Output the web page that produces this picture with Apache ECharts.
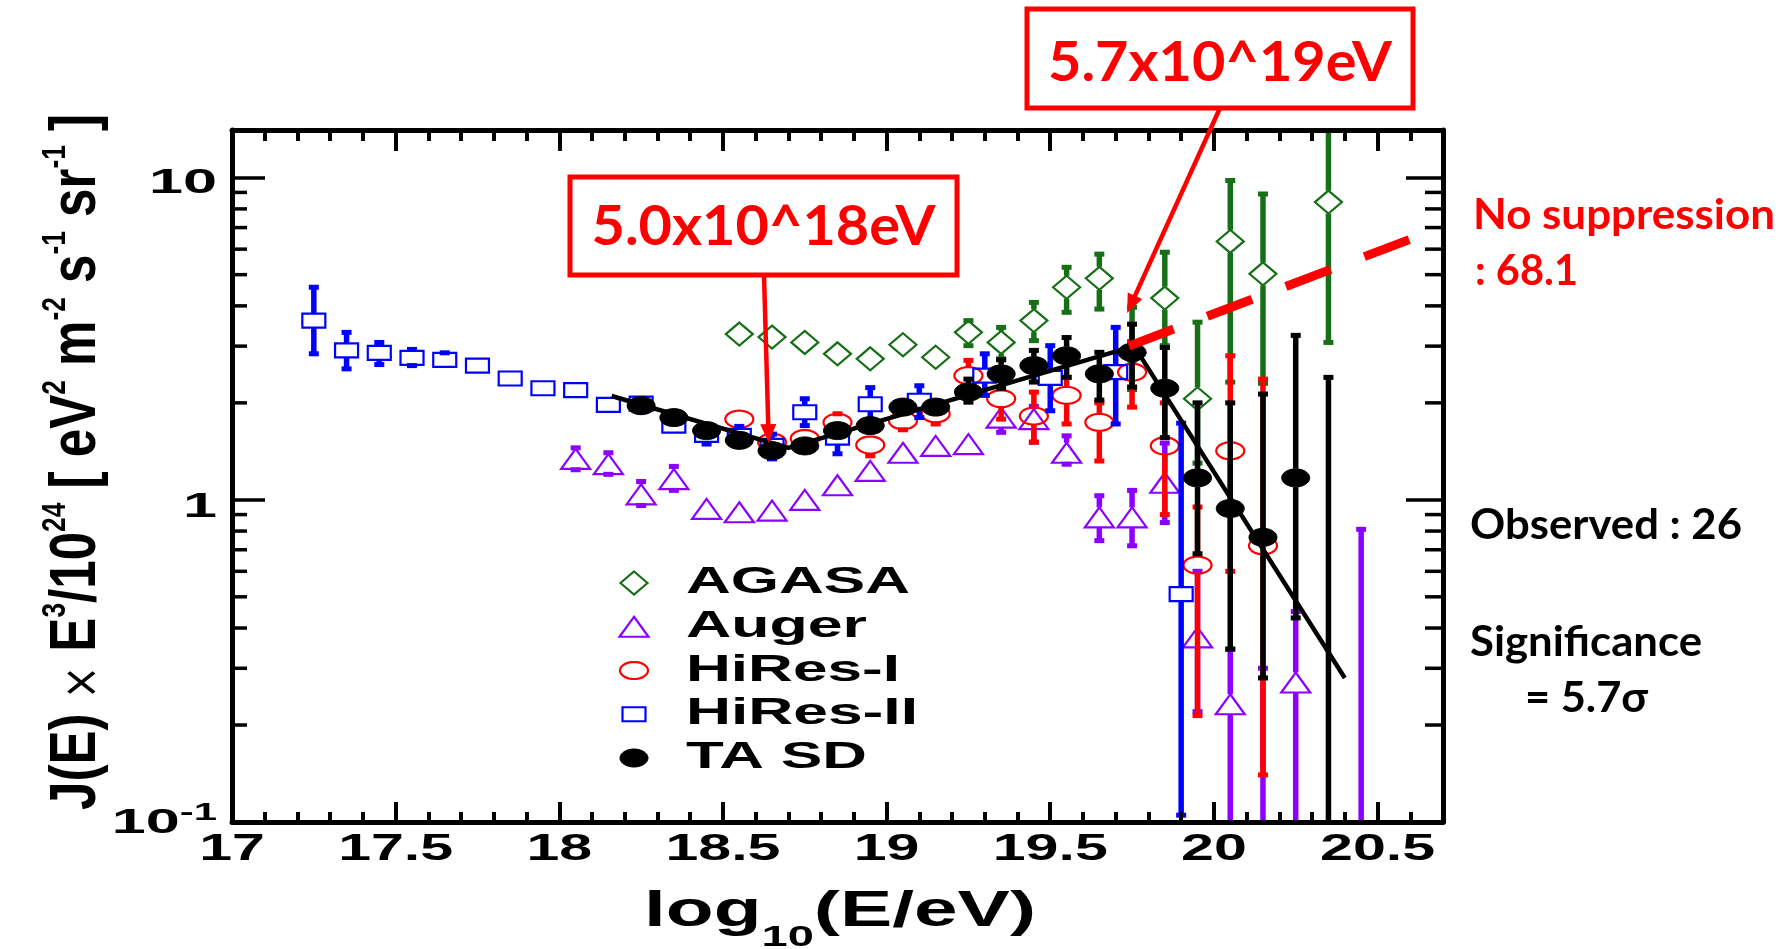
<!DOCTYPE html>
<html>
<head>
<meta charset="utf-8">
<title>TA SD energy spectrum</title>
<script src="https://cdn.jsdelivr.net/npm/echarts@6.0.0/dist/echarts.min.js"></script>
<style>
  html, body { margin: 0; padding: 0; background: #ffffff; }
  #chart { width: 1783px; height: 949px; }
</style>
</head>
<body>
<div id="chart"></div>
<script>
// ---------- axis ranges and tick labels ----------
const X_MIN = 17, X_MAX = 20.7;
const Y_MIN = 0.1, Y_MAX = 14.06;
const xTickValues = [17, 17.5, 18, 18.5, 19, 19.5, 20, 20.5];
const xTickLabels = ['17', '17.5', '18', '18.5', '19', '19.5', '20', '20.5'];
const yTickValues = [0.1, 1, 10];
const yTickBase = ['10', '1', '10'];
const yTickExp = ['-1', '', ''];
const yMinorTicks = [0.2, 0.3, 0.4, 0.5, 0.6, 0.7, 0.8, 0.9, 2, 3, 4, 5, 6, 7, 8, 9];

// ---------- measurements: log10(E/eV) and J(E)E^3/1e24, with error-bar ends ----------
const agasaX  = [18.55, 18.65, 18.75, 18.85, 18.95, 19.05, 19.15, 19.25, 19.35, 19.45, 19.55, 19.65, 19.75, 19.85, 19.95, 20.05, 20.15, 20.35];
const agasaY  = [3.27, 3.20, 3.08, 2.84, 2.74, 3.03, 2.77, 3.31, 3.08, 3.60, 4.57, 4.87, 2.85, 4.23, 2.06, 6.34, 5.03, 8.40];
const agasaLo = [null, null, null, null, null, null, null, 3.01, 2.74, 3.12, 3.82, 3.91, 2.20, 3.01, 1.30, 2.32, 2.30, 3.08];
const agasaHi = [null, null, null, null, null, null, null, 3.60, 3.43, 4.10, 5.27, 5.79, 3.96, 5.87, 3.56, 9.80, 8.90, 20.0];

const augerX  = [18.05, 18.15, 18.25, 18.35, 18.45, 18.55, 18.65, 18.75, 18.85, 18.95, 19.05, 19.15, 19.25, 19.35, 19.45, 19.55, 19.65, 19.75, 19.85, 19.95, 20.05, 20.15, 20.25, 20.45];
const augerY  = [1.34, 1.29, 1.04, 1.16, 0.937, 0.915, 0.926, 1.00, 1.11, 1.23, 1.40, 1.47, 1.49, 1.80, 1.78, 1.40, 0.882, 0.882, 1.13, 0.374, 0.232, 0.06, 0.271, 0.06];
const augerLo = [1.24, 1.20, 0.96, 1.07, null, null, null, null, null, null, null, null, null, 1.62, 1.51, 1.29, 0.747, 0.72, 0.85, 0.22, 0.05, 0.05, 0.05, 0.05];
const augerHi = [1.45, 1.40, 1.14, 1.27, null, null, null, null, null, null, null, null, null, 1.90, 1.95, 1.58, 1.03, 1.07, 1.50, 0.60, 0.344, 0.30, 0.45, 0.81];

const hiresIX  = [18.55, 18.65, 18.75, 18.85, 18.95, 19.05, 19.15, 19.25, 19.35, 19.45, 19.55, 19.65, 19.75, 19.85, 19.95, 20.05, 20.15];
const hiresIY  = [1.78, 1.51, 1.55, 1.74, 1.48, 1.76, 1.85, 2.43, 2.06, 1.82, 2.11, 1.74, 2.49, 1.47, 0.627, 1.42, 0.72];
const hiresILo = [1.70, 1.44, 1.48, 1.64, 1.37, 1.65, 1.72, 2.21, 1.78, 1.51, 1.72, 1.32, 1.94, 0.90, 0.214, 0.60, 0.14];
const hiresIHi = [1.86, 1.58, 1.62, 1.85, 1.56, 1.90, 2.00, 2.71, 2.37, 2.16, 2.40, 2.00, 3.10, 2.00, 0.95, 2.80, 2.37];

const hiresIIX  = [17.25, 17.35, 17.45, 17.55, 17.65, 17.75, 17.85, 17.95, 18.05, 18.15, 18.25, 18.35, 18.45, 18.55, 18.65, 18.75, 18.85, 18.95, 19.1, 19.3, 19.5, 19.7, 19.9];
const hiresIIY  = [3.60, 2.91, 2.86, 2.76, 2.72, 2.61, 2.38, 2.22, 2.19, 1.97, 1.99, 1.70, 1.59, 1.58, 1.47, 1.87, 1.56, 1.98, 2.03, 2.43, 2.39, 2.49, 0.51];
const hiresIILo = [2.84, 2.55, 2.63, 2.61, 2.63, null, null, null, null, 1.88, 1.92, 1.62, 1.49, 1.47, 1.34, 1.70, 1.39, 1.70, 1.80, 2.11, 1.89, 1.72, 0.105];
const hiresIIHi = [4.57, 3.31, 3.08, 2.93, 2.86, null, null, null, null, 2.06, 2.06, 1.76, 1.64, 1.69, 1.60, 2.06, 1.66, 2.23, 2.26, 2.84, 3.01, 3.43, 1.73];

const taX  = [18.25, 18.35, 18.45, 18.55, 18.65, 18.75, 18.85, 18.95, 19.05, 19.15, 19.25, 19.35, 19.45, 19.55, 19.65, 19.75, 19.85, 19.95, 20.05, 20.15, 20.25, 20.35];
const taY  = [1.96, 1.80, 1.64, 1.53, 1.42, 1.47, 1.64, 1.70, 1.94, 1.94, 2.16, 2.46, 2.61, 2.80, 2.46, 2.87, 2.22, 1.17, 0.94, 0.765, 1.17, 0.05];
const taLo = [1.90, 1.75, 1.59, 1.48, 1.37, 1.41, 1.57, 1.62, 1.85, 1.84, 2.01, 2.22, 2.32, 2.40, 2.04, 2.24, 1.56, 0.68, 0.344, 0.28, 0.43, 0.05];
const taHi = [2.02, 1.85, 1.69, 1.58, 1.47, 1.53, 1.71, 1.78, 2.03, 2.04, 2.37, 2.72, 2.91, 3.19, 2.87, 3.51, 2.97, 2.00, 2.00, 2.13, 3.24, 2.40];

// broken power-law fit through the TA SD points, and its unbroken continuation
const fitX = [18.16, 18.70, 19.756, 20.40];
const fitY = [2.10, 1.45, 3.00, 0.28];
const noSupX = [19.74, 20.61];
const noSupY = [3.00, 6.50];

// arrow tips (data space) for the two energy call-outs
const arrowTipX = [18.64, 19.735];
const arrowTipY = [1.50, 3.80];

// ---------- styling ----------
const COLORS = { agasa: '#177017', auger: '#8c00ff', hiresI: '#ff0000', hiresII: '#0000ff', ta: '#000000', note: '#ff0000' };
const SANS = '"Liberation Sans", Arial, Helvetica, sans-serif';
const NOTE_FAMILY = '"Lato", "DejaVu Sans", sans-serif';
const BAR_WIDTH = 5.5, CAP_HALF = 5, CAP_H = 5;
const MARKERS = {
  diamond:  { hw: 13.5, hh: 11.5 },
  triangle: { hw: 14.5, hh: 10 },
  ring:     { hw: 14, hh: 8.5 },
  square:   { hw: 11.5, hh: 7 },
  dot:      { hw: 14, hh: 9 }
};

const measureCtx = document.createElement('canvas').getContext('2d');
function textWidth(str, font) { measureCtx.font = font; return measureCtx.measureText(str).width; }
function fontOf(s) { return `${s.fontWeight || 'normal'} ${s.fontSize}px ${s.fontFamily}`; }
function richString(segs) { return segs.map(([k, t]) => `{${k}|${t}}`).join(''); }
function richWidth(segs, rich) { return segs.reduce((w, [k, t]) => w + textWidth(t, fontOf(rich[k])), 0); }

function ellipsePoints(cx, cy, rx, ry) {
  const pts = [];
  for (let k = 0; k < 40; k++) {
    const a = k / 40 * Math.PI * 2;
    pts.push([cx + rx * Math.cos(a), cy + ry * Math.sin(a)]);
  }
  return pts;
}

function markerShape(kind, cx, cy, color) {
  const m = MARKERS[kind];
  const open = { fill: 'none', stroke: color, lineWidth: 2.2 };
  switch (kind) {
    case 'diamond':
      return { type: 'polygon', shape: { points: [[cx, cy - m.hh], [cx + m.hw, cy], [cx, cy + m.hh], [cx - m.hw, cy]] }, style: open };
    case 'triangle':
      return { type: 'polygon', shape: { points: [[cx, cy - m.hh], [cx + m.hw, cy + m.hh], [cx - m.hw, cy + m.hh]] }, style: open };
    case 'ring':
      return { type: 'polygon', shape: { points: ellipsePoints(cx, cy, m.hw, m.hh) }, style: open };
    case 'square':
      return { type: 'rect', shape: { x: cx - m.hw, y: cy - m.hh, width: 2 * m.hw, height: 2 * m.hh }, style: open };
    default:
      return { type: 'polygon', shape: { points: ellipsePoints(cx, cy, m.hw, m.hh) }, style: { fill: color, stroke: color, lineWidth: 1 } };
  }
}

function errorBar(cx, yFrom, yTo, color) {
  return [
    { type: 'line', shape: { x1: cx, y1: yFrom, x2: cx, y2: yTo }, style: { stroke: color, lineWidth: BAR_WIDTH } },
    { type: 'rect', shape: { x: cx - CAP_HALF, y: yTo - CAP_H / 2, width: 2 * CAP_HALF, height: CAP_H }, style: { fill: color } }
  ];
}

function spectrumSeries(name, xs, ys, los, his, kind, color, z) {
  return {
    type: 'custom', name, coordinateSystem: 'cartesian2d', xAxisIndex: 0, yAxisIndex: 0,
    clip: true, silent: true, z,
    encode: { x: 0, y: 1 },
    data: xs.map((x, i) => [x, ys[i], los[i] == null ? NaN : los[i], his[i] == null ? NaN : his[i]]),
    renderItem(params, api) {
      const x = api.value(0), y = api.value(1), lo = api.value(2), hi = api.value(3);
      const c = api.coord([x, y]);
      const hh = MARKERS[kind].hh;
      let children = [];
      if (isFinite(hi) && hi > 0) {
        const p = api.coord([x, hi]);
        if (p[1] < c[1] - hh) children = children.concat(errorBar(c[0], c[1] - hh, p[1], color));
      }
      if (isFinite(lo) && lo > 0) {
        const p = api.coord([x, lo]);
        if (p[1] > c[1] + hh) children = children.concat(errorBar(c[0], c[1] + hh, p[1], color));
      }
      children.push(markerShape(kind, c[0], c[1], color));
      return { type: 'group', children };
    }
  };
}

// ---------- axes ----------
function xAxisDef(position, interval, tickLen, showLine) {
  return {
    type: 'value', gridIndex: 0, position, min: X_MIN, max: X_MAX, interval,
    axisLine: { show: showLine, onZero: false, lineStyle: { color: '#000', width: 5 } },
    axisTick: { show: true, inside: true, length: tickLen, lineStyle: { color: '#000', width: 4 } },
    axisLabel: { show: false }, splitLine: { show: false }, z: 20
  };
}
function yAxisDef(position, tickLen) {
  return {
    type: 'log', logBase: 10, gridIndex: 0, position, min: Y_MIN, max: Y_MAX,
    axisLine: { show: true, onZero: false, lineStyle: { color: '#000', width: 5 } },
    axisTick: { show: true, inside: true, length: tickLen, lineStyle: { color: '#000', width: 3.5 } },
    axisLabel: { show: false }, splitLine: { show: false }, z: 20
  };
}

// tick label text is drawn wide, matching the stretched frame
const X_LABEL_FONT = `bold 37px ${SANS}`;
const X_LABEL_SCALE = 115 / textWidth('17.5', X_LABEL_FONT);
const Y_LABEL_RICH = {
  b: { fontFamily: SANS, fontWeight: 'bold', fontSize: 35, lineHeight: 40, verticalAlign: 'bottom' },
  s: { fontFamily: SANS, fontWeight: 'bold', fontSize: 24, lineHeight: 24, padding: [0, 0, 18, 0], verticalAlign: 'top' }
};
const Y_LABEL_SCALE = 68 / textWidth('10', fontOf(Y_LABEL_RICH.b));
const Y_LABEL_DY = [-1, 5, 3];

const xLabelSeries = {
  type: 'custom', name: 'x tick labels', coordinateSystem: 'cartesian2d', clip: false, silent: true, z: 30,
  encode: { x: 0, y: 1 },
  data: xTickValues.map((v, i) => [v, Y_MIN, i]),
  renderItem(params, api) {
    const p = api.coord([api.value(0), Y_MIN]);
    return {
      type: 'text', x: p[0], y: p[1] + 28, scaleX: X_LABEL_SCALE,
      style: { text: xTickLabels[api.value(2)], font: X_LABEL_FONT, fill: '#000', align: 'center', verticalAlign: 'middle', textAlign: 'center', textVerticalAlign: 'middle' }
    };
  }
};

const yLabelSeries = {
  type: 'custom', name: 'y tick labels', coordinateSystem: 'cartesian2d', clip: false, silent: true, z: 30,
  encode: { x: 0, y: 1 },
  data: yTickValues.map((v, i) => [X_MIN, v, i]),
  renderItem(params, api) {
    const i = api.value(2);
    const p = api.coord([X_MIN, api.value(1)]);
    const segs = [['b', yTickBase[i]]];
    if (yTickExp[i]) segs.push(['s', yTickExp[i]]);
    return {
      type: 'text', x: p[0] - 15, y: p[1] + Y_LABEL_DY[i], scaleX: Y_LABEL_SCALE,
      style: { text: richString(segs), rich: Y_LABEL_RICH, fill: '#000', align: 'right', verticalAlign: 'middle', textAlign: 'right', textVerticalAlign: 'middle' }
    };
  }
};

const yMinorSeries = {
  type: 'custom', name: 'minor ticks', coordinateSystem: 'cartesian2d', clip: false, silent: true, z: 25,
  encode: { x: 0, y: 1 },
  data: yMinorTicks.map(v => [X_MIN, v]),
  renderItem(params, api) {
    const v = api.value(1);
    const l = api.coord([X_MIN, v]);
    const r = api.coord([X_MAX, v]);
    const st = { stroke: '#000', lineWidth: 3.5 };
    return {
      type: 'group', children: [
        { type: 'line', shape: { x1: l[0], y1: l[1], x2: l[0] + 15, y2: l[1] }, style: st },
        { type: 'line', shape: { x1: r[0] - 18, y1: r[1], x2: r[0], y2: r[1] }, style: st }
      ]
    };
  }
};

// ---------- call-out arrows ----------
const ARROW_STARTS = [[764, 275], [1220, 108]];
const arrowSeries = {
  type: 'custom', name: 'call-outs', coordinateSystem: 'cartesian2d', clip: false, silent: true, z: 40,
  encode: { x: 0, y: 1 },
  data: arrowTipX.map((x, i) => [x, arrowTipY[i], i]),
  renderItem(params, api) {
    const tip = api.coord([api.value(0), api.value(1)]);
    const s = ARROW_STARTS[api.value(2)];
    const dx = tip[0] - s[0], dy = tip[1] - s[1];
    const len = Math.hypot(dx, dy), ux = dx / len, uy = dy / len;
    const headL = 19, headW = 8;
    const bx = tip[0] - ux * headL, by = tip[1] - uy * headL;
    return {
      type: 'group', children: [
        { type: 'line', shape: { x1: s[0], y1: s[1], x2: bx + ux * 2, y2: by + uy * 2 }, style: { stroke: COLORS.note, lineWidth: 4.5 } },
        { type: 'polygon', shape: { points: [tip, [bx - uy * headW, by + ux * headW], [bx + uy * headW, by - ux * headW]] }, style: { fill: COLORS.note } }
      ]
    };
  }
};

// ---------- legend, titles and notes ----------
const LEGEND_FONT = `bold 37px ${SANS}`;
const legendEntries = [
  { name: 'AGASA', kind: 'diamond', color: COLORS.agasa, width: 224 },
  { name: 'Auger', kind: 'triangle', color: COLORS.auger, width: 181 },
  { name: 'HiRes-I', kind: 'ring', color: COLORS.hiresI, width: 214 },
  { name: 'HiRes-II', kind: 'square', color: COLORS.hiresII, width: 232 },
  { name: 'TA SD', kind: 'dot', color: COLORS.ta, width: 181 }
];
const graphics = [];
legendEntries.forEach((e, i) => {
  const y = 583 + i * 43.75;
  graphics.push(markerShape(e.kind, 634, y, e.color));
  graphics.push({
    type: 'text', x: 686, y, scaleX: e.width / textWidth(e.name, LEGEND_FONT),
    style: { text: e.name, font: LEGEND_FONT, fill: '#000', align: 'left', verticalAlign: 'middle', textAlign: 'left', textVerticalAlign: 'middle' }
  });
});

// y-axis title: tall condensed lettering, exponents raised well above the caps
const yTitleRich = {
  n: { fontFamily: SANS, fontWeight: 'bold', fontSize: 64, lineHeight: 70, verticalAlign: 'bottom' },
  m: { fontFamily: '"DejaVu Sans", sans-serif', fontWeight: 'normal', fontSize: 50, lineHeight: 70, verticalAlign: 'bottom' },
  s: { fontFamily: SANS, fontWeight: 'bold', fontSize: 33, lineHeight: 33, padding: [0, 0, 58, 0], verticalAlign: 'top' }
};
const yTitleSegs = [['n', 'J(E) '], ['m', '\u00d7'], ['n', ' E'], ['s', '3'], ['n', '/10'], ['s', '24'], ['n', ' [ eV'], ['s', '2'], ['n', ' m'], ['s', '-2'], ['n', ' s'], ['s', '-1'], ['n', ' sr'], ['s', '-1'], ['n', ' ]']];
graphics.push({
  type: 'text', x: 74, y: 462, rotation: Math.PI / 2, scaleX: 696 / richWidth(yTitleSegs, yTitleRich),
  style: { text: richString(yTitleSegs), rich: yTitleRich, fill: '#000', align: 'center', verticalAlign: 'middle', textAlign: 'center', textVerticalAlign: 'middle' }
});

// x-axis title
const xTitleRich = {
  n: { fontFamily: SANS, fontWeight: 'bold', fontSize: 50, lineHeight: 58, verticalAlign: 'top' },
  u: { fontFamily: SANS, fontWeight: 'bold', fontSize: 30, lineHeight: 30, padding: [36, 0, 0, 0], verticalAlign: 'top' }
};
const xTitleSegs = [['n', 'log'], ['u', '10'], ['n', '(E/eV)']];
graphics.push({
  type: 'text', x: 840, y: 916, scaleX: 392 / richWidth(xTitleSegs, xTitleRich),
  style: { text: richString(xTitleSegs), rich: xTitleRich, fill: '#000', align: 'center', verticalAlign: 'middle', textAlign: 'center', textVerticalAlign: 'middle' }
});

// boxed energy call-outs
const BOX_FONT = `bold 55px ${NOTE_FAMILY}`;
const boxLabels = [
  { text: '5.0x10^18eV', box: [570, 177, 387, 98], cy: 227 },
  { text: '5.7x10^19eV', box: [1027, 9, 386, 99], cy: 63 }
];
const BOX_SCALE = 344 / textWidth(boxLabels[0].text, BOX_FONT);
boxLabels.forEach(b => {
  graphics.push({ type: 'rect', z: 50, shape: { x: b.box[0], y: b.box[1], width: b.box[2], height: b.box[3] }, style: { fill: '#ffffff', stroke: COLORS.note, lineWidth: 5 } });
  graphics.push({
    type: 'text', z: 51, x: b.box[0] + b.box[2] / 2, y: b.cy, scaleX: BOX_SCALE,
    style: { text: b.text, font: BOX_FONT, fill: COLORS.note, align: 'center', verticalAlign: 'middle', textAlign: 'center', textVerticalAlign: 'middle' }
  });
});

// statistics notes at the right
const NOTE_FONT = `bold 42px ${NOTE_FAMILY}`;
const noteLines = [
  { text: 'No suppression', x: 1473, y: 215, width: 302, fill: COLORS.note },
  { text: ': 68.1', x: 1475, y: 271, width: 103, fill: COLORS.note },
  { text: 'Observed : 26', x: 1470, y: 525, width: 272, fill: '#000000' },
  { text: 'Significance', x: 1470, y: 642, width: 232, fill: '#000000' },
  { text: '= 5.7\u03c3', x: 1525, y: 698, width: 123, fill: '#000000' }
];
noteLines.forEach(n => {
  graphics.push({
    type: 'text', x: n.x, y: n.y, scaleX: n.width / textWidth(n.text, NOTE_FONT),
    style: { text: n.text, font: NOTE_FONT, fill: n.fill, align: 'left', verticalAlign: 'middle', textAlign: 'left', textVerticalAlign: 'middle' }
  });
});

// ---------- chart ----------
const chart = echarts.init(document.getElementById('chart'), null, { renderer: 'canvas', width: 1783, height: 949 });
chart.setOption({
  animation: false,
  backgroundColor: '#ffffff',
  grid: { left: 232, top: 130, width: 1211, height: 692, show: false, containLabel: false, outerBoundsMode: 'none' },
  xAxis: [xAxisDef('bottom', 0.5, 20, true), xAxisDef('bottom', 0.1, 10, false), xAxisDef('top', 0.5, 21, true), xAxisDef('top', 0.1, 11, false)],
  yAxis: [yAxisDef('left', 33), yAxisDef('right', 37)],
  series: [
    spectrumSeries('AGASA', agasaX, agasaY, agasaLo, agasaHi, 'diamond', COLORS.agasa, 3),
    spectrumSeries('Auger', augerX, augerY, augerLo, augerHi, 'triangle', COLORS.auger, 4),
    spectrumSeries('HiRes-I', hiresIX, hiresIY, hiresILo, hiresIHi, 'ring', COLORS.hiresI, 5),
    spectrumSeries('HiRes-II', hiresIIX, hiresIIY, hiresIILo, hiresIIHi, 'square', COLORS.hiresII, 6),
    spectrumSeries('TA SD', taX, taY, taLo, taHi, 'dot', COLORS.ta, 7),
    {
      type: 'line', name: 'fit', xAxisIndex: 0, yAxisIndex: 0, z: 8, silent: true,
      data: fitX.map((x, i) => [x, fitY[i]]), symbol: 'none',
      lineStyle: { color: '#000', width: 4.5 }
    },
    {
      type: 'line', name: 'no suppression', xAxisIndex: 0, yAxisIndex: 0, z: 9, silent: true,
      data: noSupX.map((x, i) => [x, noSupY[i]]), symbol: 'none',
      lineStyle: { color: COLORS.note, width: 9, type: [48, 36], cap: 'butt' }
    },
    yMinorSeries, xLabelSeries, yLabelSeries, arrowSeries
  ],
  graphic: { elements: graphics }
});
</script>
</body>
</html>
